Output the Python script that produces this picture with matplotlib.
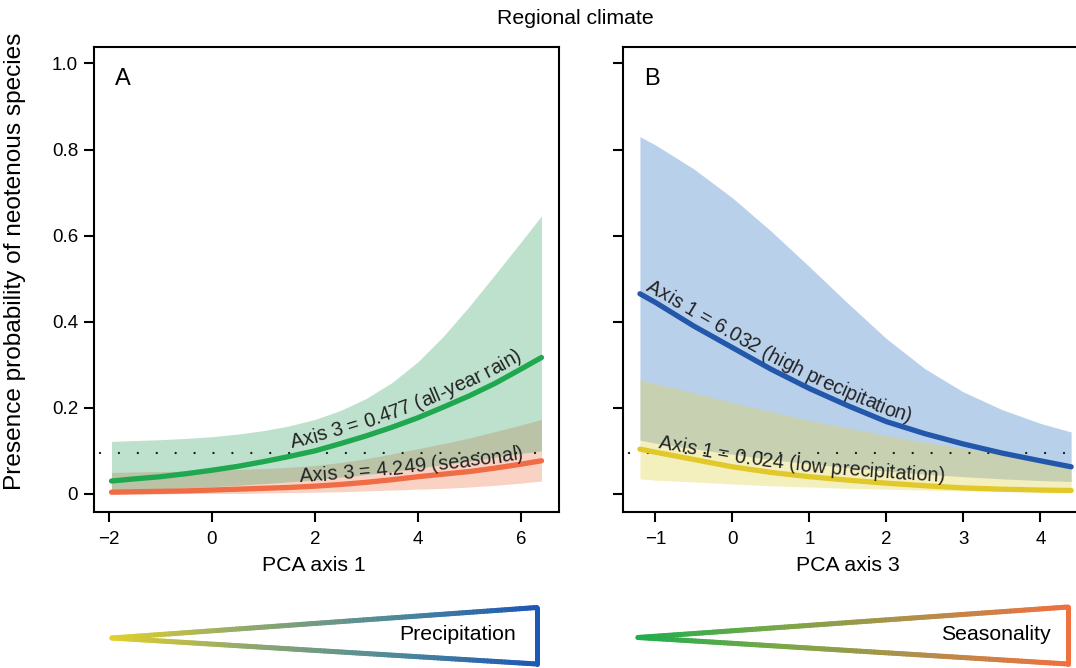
import matplotlib
matplotlib.use("Agg")
import matplotlib.pyplot as plt
import numpy as np
from matplotlib.collections import LineCollection
from matplotlib.colors import LinearSegmentedColormap
from matplotlib.font_manager import FontProperties
from matplotlib.textpath import TextToPath

plt.rcParams['font.family'] = ['Liberation Sans', 'DejaVu Sans']

# ---------------- data ----------------
suptitle = "Regional climate"
ylabel = "Presence probability of neotenous species"
prevalence = 0.094

yticks = [0, 0.2, 0.4, 0.6, 0.8, 1.0]
ytick_labels = ["0", "0.2", "0.4", "0.6", "0.8", "1.0"]

# Panel A : PCA axis 1
xA = [-1.95, -1.5, -1, -0.5, 0, 0.5, 1, 1.5, 2, 2.5, 3, 3.5, 4, 4.5, 5, 5.5, 6, 6.4]
green_mid = [0.030, 0.035, 0.040, 0.047, 0.055, 0.064, 0.075, 0.087, 0.100, 0.117,
             0.135, 0.155, 0.177, 0.202, 0.228, 0.257, 0.290, 0.317]
green_hi = [0.122, 0.124, 0.126, 0.129, 0.133, 0.139, 0.147, 0.158, 0.173, 0.194,
            0.222, 0.259, 0.307, 0.367, 0.436, 0.510, 0.585, 0.646]
green_lo = [0.009, 0.010, 0.012, 0.014, 0.017, 0.020, 0.024, 0.028, 0.033, 0.039,
            0.045, 0.052, 0.060, 0.068, 0.076, 0.085, 0.094, 0.100]
red_mid = [0.004, 0.005, 0.006, 0.007, 0.009, 0.011, 0.013, 0.015, 0.018, 0.022,
           0.027, 0.033, 0.040, 0.046, 0.052, 0.060, 0.069, 0.077]
red_hi = [0.050, 0.051, 0.052, 0.053, 0.055, 0.057, 0.059, 0.062, 0.066, 0.073,
          0.082, 0.093, 0.105, 0.117, 0.130, 0.145, 0.160, 0.173]
red_lo = [0.000, 0.000, 0.000, 0.001, 0.001, 0.001, 0.002, 0.003, 0.004, 0.005,
          0.007, 0.009, 0.011, 0.013, 0.016, 0.020, 0.025, 0.030]
xticksA = [-2, 0, 2, 4, 6]
xlabelA = "PCA axis 1"
labelA_green = "Axis 3 = 0.477 (all-year rain)"
labelA_red = "Axis 3 = 4.249 (seasonal)"

# Panel B : PCA axis 3
xB = [-1.2, -1, -0.5, 0, 0.5, 1, 1.5, 2, 2.5, 3, 3.5, 4, 4.4]
blue_mid = [0.465, 0.445, 0.390, 0.340, 0.290, 0.245, 0.205, 0.168, 0.140, 0.116, 0.095, 0.077, 0.063]
blue_hi = [0.830, 0.811, 0.755, 0.688, 0.611, 0.528, 0.443, 0.361, 0.291, 0.237, 0.196, 0.164, 0.144]
blue_lo = [0.125, 0.118, 0.105, 0.092, 0.080, 0.070, 0.061, 0.053, 0.046, 0.040, 0.035, 0.031, 0.029]
yel_mid = [0.104, 0.097, 0.080, 0.063, 0.050, 0.040, 0.032, 0.025, 0.019, 0.014, 0.011, 0.009, 0.008]
yel_hi = [0.265, 0.256, 0.235, 0.212, 0.191, 0.171, 0.153, 0.136, 0.120, 0.106, 0.093, 0.081, 0.070]
yel_lo = [0.035, 0.032, 0.028, 0.023, 0.019, 0.016, 0.013, 0.011, 0.009, 0.007, 0.006, 0.005, 0.004]
xticksB = [-1, 0, 1, 2, 3, 4]
xlabelB = "PCA axis 3"
labelB_blue = "Axis 1 = 6.032 (high precipitation)"
labelB_yel = "Axis 1 = 0.024 (low precipitation)"

gradient_labels = ["Precipitation", "Seasonality"]

# ---------------- styling ----------------
W, H = 1076, 668
DPI = 100
fig = plt.figure(figsize=(W / DPI, H / DPI), dpi=DPI)

C_GREEN = "#1fa84f"
C_RED = "#ef6c45"
C_BLUE = "#2357aa"
C_YEL = "#e1c92c"
F_GREEN = (69 / 255, 169 / 255, 112 / 255)
F_RED = (241 / 255, 126 / 255, 84 / 255)
F_BLUE = (55 / 255, 121 / 255, 198 / 255)
F_YEL = (226 / 255, 212 / 255, 69 / 255)
ALPHA = 0.35

TICK_FS = 13.5
BIG_FS = 15.3
LAB_FS = 14.4
TEXT_COL = "#222222"


def px_axes(left, right, top, bottom):
    return [left / W, 1 - bottom / H, (right - left) / W, (bottom - top) / H]


def style_axes(ax, xticks, show_ylabels):
    for s in ["left", "top", "bottom", "right"]:
        ax.spines[s].set_linewidth(1.5)
    ax.set_yticks(yticks)
    if show_ylabels:
        ax.set_yticklabels(ytick_labels)
    else:
        ax.set_yticklabels([])
    ax.set_xticks(xticks)
    ax.tick_params(axis="both", direction="out", length=7.5, width=1.5,
                   labelsize=TICK_FS, color="black")
    ax.tick_params(axis="x", pad=6)
    ax.tick_params(axis="y", pad=4)


def prev_line(ax, x0, x1):
    ax.plot([x0, x1], [prevalence, prevalence], color="#1a1a1a", lw=1.7,
            linestyle=(0, (0.01, 8.0)), dash_capstyle="round", zorder=4)


_t2p = TextToPath()
_prop = FontProperties(family="Liberation Sans", size=LAB_FS)


def _w(s):
    # width in points -> pixels
    w, h, d = _t2p.get_text_width_height_descent(s, _prop, ismath=False)
    return w * DPI / 72.0


def curved_text(ax, xs, ys, text, x_start, offset_px, fs=LAB_FS):
    """Write text character by character along the curve (xs, ys)."""
    pts = ax.transData.transform(np.column_stack([xs, ys]))
    seg = np.diff(pts, axis=0)
    seglen = np.hypot(seg[:, 0], seg[:, 1])
    cum = np.concatenate([[0], np.cumsum(seglen)])

    def extrap(s):
        if s < 0:
            return pts[0] + s * seg[0] / seglen[0]
        if s >= cum[-1]:
            return pts[-1] + (s - cum[-1]) * seg[-1] / seglen[-1]
        i = min(np.searchsorted(cum, s, side="right") - 1, len(seglen) - 1)
        f = (s - cum[i]) / seglen[i]
        return pts[i] + f * seg[i]

    x0_disp = ax.transData.transform((x_start, 0))[0]
    i = np.searchsorted(pts[:, 0], x0_disp) - 1
    i = int(np.clip(i, 0, len(seglen) - 1))
    f = (x0_disp - pts[i, 0]) / seg[i, 0]
    s0 = cum[i] + f * seglen[i]

    bar = _w("|")
    for k, ch in enumerate(text):
        if ch == " ":
            continue
        left = _w(text[:k] + "|") - bar if k > 0 else 0.0
        right = _w(text[:k + 1] + "|") - bar
        sc = s0 + (left + right) / 2
        p = extrap(sc)
        pa, pb = extrap(sc - 14), extrap(sc + 14)
        t = (pb - pa) / np.hypot(*(pb - pa))
        nrm = np.array([-t[1], t[0]])
        q = p + nrm * offset_px
        ang = np.degrees(np.arctan2(t[1], t[0]))
        fig.text(q[0] / W, q[1] / H, ch, rotation=ang, rotation_mode="anchor",
                 ha="center", va="baseline", fontsize=fs, color=TEXT_COL, zorder=6)


# Panel A
axA = fig.add_axes(px_axes(94, 559, 46.7, 512))
axA.set_xlim(-2.29, 6.74)
axA.set_ylim(-0.042, 1.039)
axA.fill_between(xA, red_lo, red_hi, color=F_RED, alpha=ALPHA, lw=0, zorder=1)
axA.fill_between(xA, green_lo, green_hi, color=F_GREEN, alpha=ALPHA, lw=0, zorder=2)
prev_line(axA, -2.18, 6.55)
axA.plot(xA, green_mid, color=C_GREEN, lw=3.8, solid_capstyle="round", zorder=5)
axA.plot(xA, red_mid, color=C_RED, lw=3.8, solid_capstyle="round", zorder=5)
style_axes(axA, xticksA, True)
axA.text(0.045, 0.93, "A", transform=axA.transAxes, fontsize=17, va="center", ha="left")
axA.set_xlabel(xlabelA, fontsize=BIG_FS)
axA.xaxis.set_label_coords(0.473, -0.095)

# Panel B (right edge runs past the figure, as in the reference)
axB = fig.add_axes(px_axes(623, 1083, 46.7, 512))
axB.set_xlim(-1.42, -1.42 + 460 / 77)
axB.set_ylim(-0.042, 1.039)
axB.fill_between(xB, blue_lo, blue_hi, color=F_BLUE, alpha=ALPHA, lw=0, zorder=1)
axB.fill_between(xB, yel_lo, yel_hi, color=F_YEL, alpha=ALPHA, lw=0, zorder=2)
prev_line(axB, -1.34, 4.5)
axB.plot(xB, blue_mid, color=C_BLUE, lw=3.8, solid_capstyle="round", zorder=5)
axB.plot(xB, yel_mid, color=C_YEL, lw=3.8, solid_capstyle="round", zorder=5)
style_axes(axB, xticksB, False)
axB.text(0.045, 0.93, "B", transform=axB.transAxes, fontsize=17, va="center", ha="left")
axB.set_xlabel(xlabelB, fontsize=BIG_FS)
axB.xaxis.set_label_coords(0.488, -0.095)

# curved labels along the lines
curved_text(axA, xA, green_mid, labelA_green, 1.59, 8)
curved_text(axA, xA, red_mid, labelA_red, 1.71, 5)
curved_text(axB, xB, blue_mid, labelB_blue, -1.17, 6)
curved_text(axB, xB, yel_mid, labelB_yel, -0.98, 5)

# Titles
fig.text(575 / W, 1 - 18 / H, suptitle, ha="center", va="center", fontsize=BIG_FS)
fig.text(15 / W, 1 - 261 / H, ylabel, rotation=90, ha="center", va="center", fontsize=17.6)

# Gradient triangles (overlay in pixel coordinates)
ov = fig.add_axes([0, 0, 1, 1])
ov.set_xlim(0, W)
ov.set_ylim(H, 0)
ov.axis("off")
ov.patch.set_alpha(0)

cm_prec = LinearSegmentedColormap.from_list("prec", ["#e3d02c", "#8fa86e", "#4f8a9a", "#1c58b6"])
cm_seas = LinearSegmentedColormap.from_list("seas", ["#1dae4e", "#7aa848", "#b48e4a", "#f0703f"])


def grad_triangle(tip, xr, ytop, ybot, cmap, text, text_x):
    n = 120
    segs, cols = [], []
    for yr in (ytop, ybot):
        xs = np.linspace(tip[0], xr, n + 1)
        ys = np.linspace(tip[1], yr, n + 1)
        for i in range(n):
            segs.append([(xs[i], ys[i]), (xs[i + 1], ys[i + 1])])
            cols.append(cmap((i + 0.5) / n))
    segs.append([(xr, ytop), (xr, ybot)])
    cols.append(cmap(1.0))
    lc = LineCollection(segs, colors=cols, linewidths=3.6, capstyle="round", joinstyle="round")
    ov.add_collection(lc)
    ov.text(text_x, (ytop + ybot) / 2 - 1, text, ha="center", va="center", fontsize=BIG_FS)


grad_triangle((112, 638), 537, 607.5, 664, cm_prec, gradient_labels[0], 458)
grad_triangle((638, 637.5), 1068, 607, 664, cm_seas, gradient_labels[1], 996)

fig.savefig("out.png", dpi=DPI)
